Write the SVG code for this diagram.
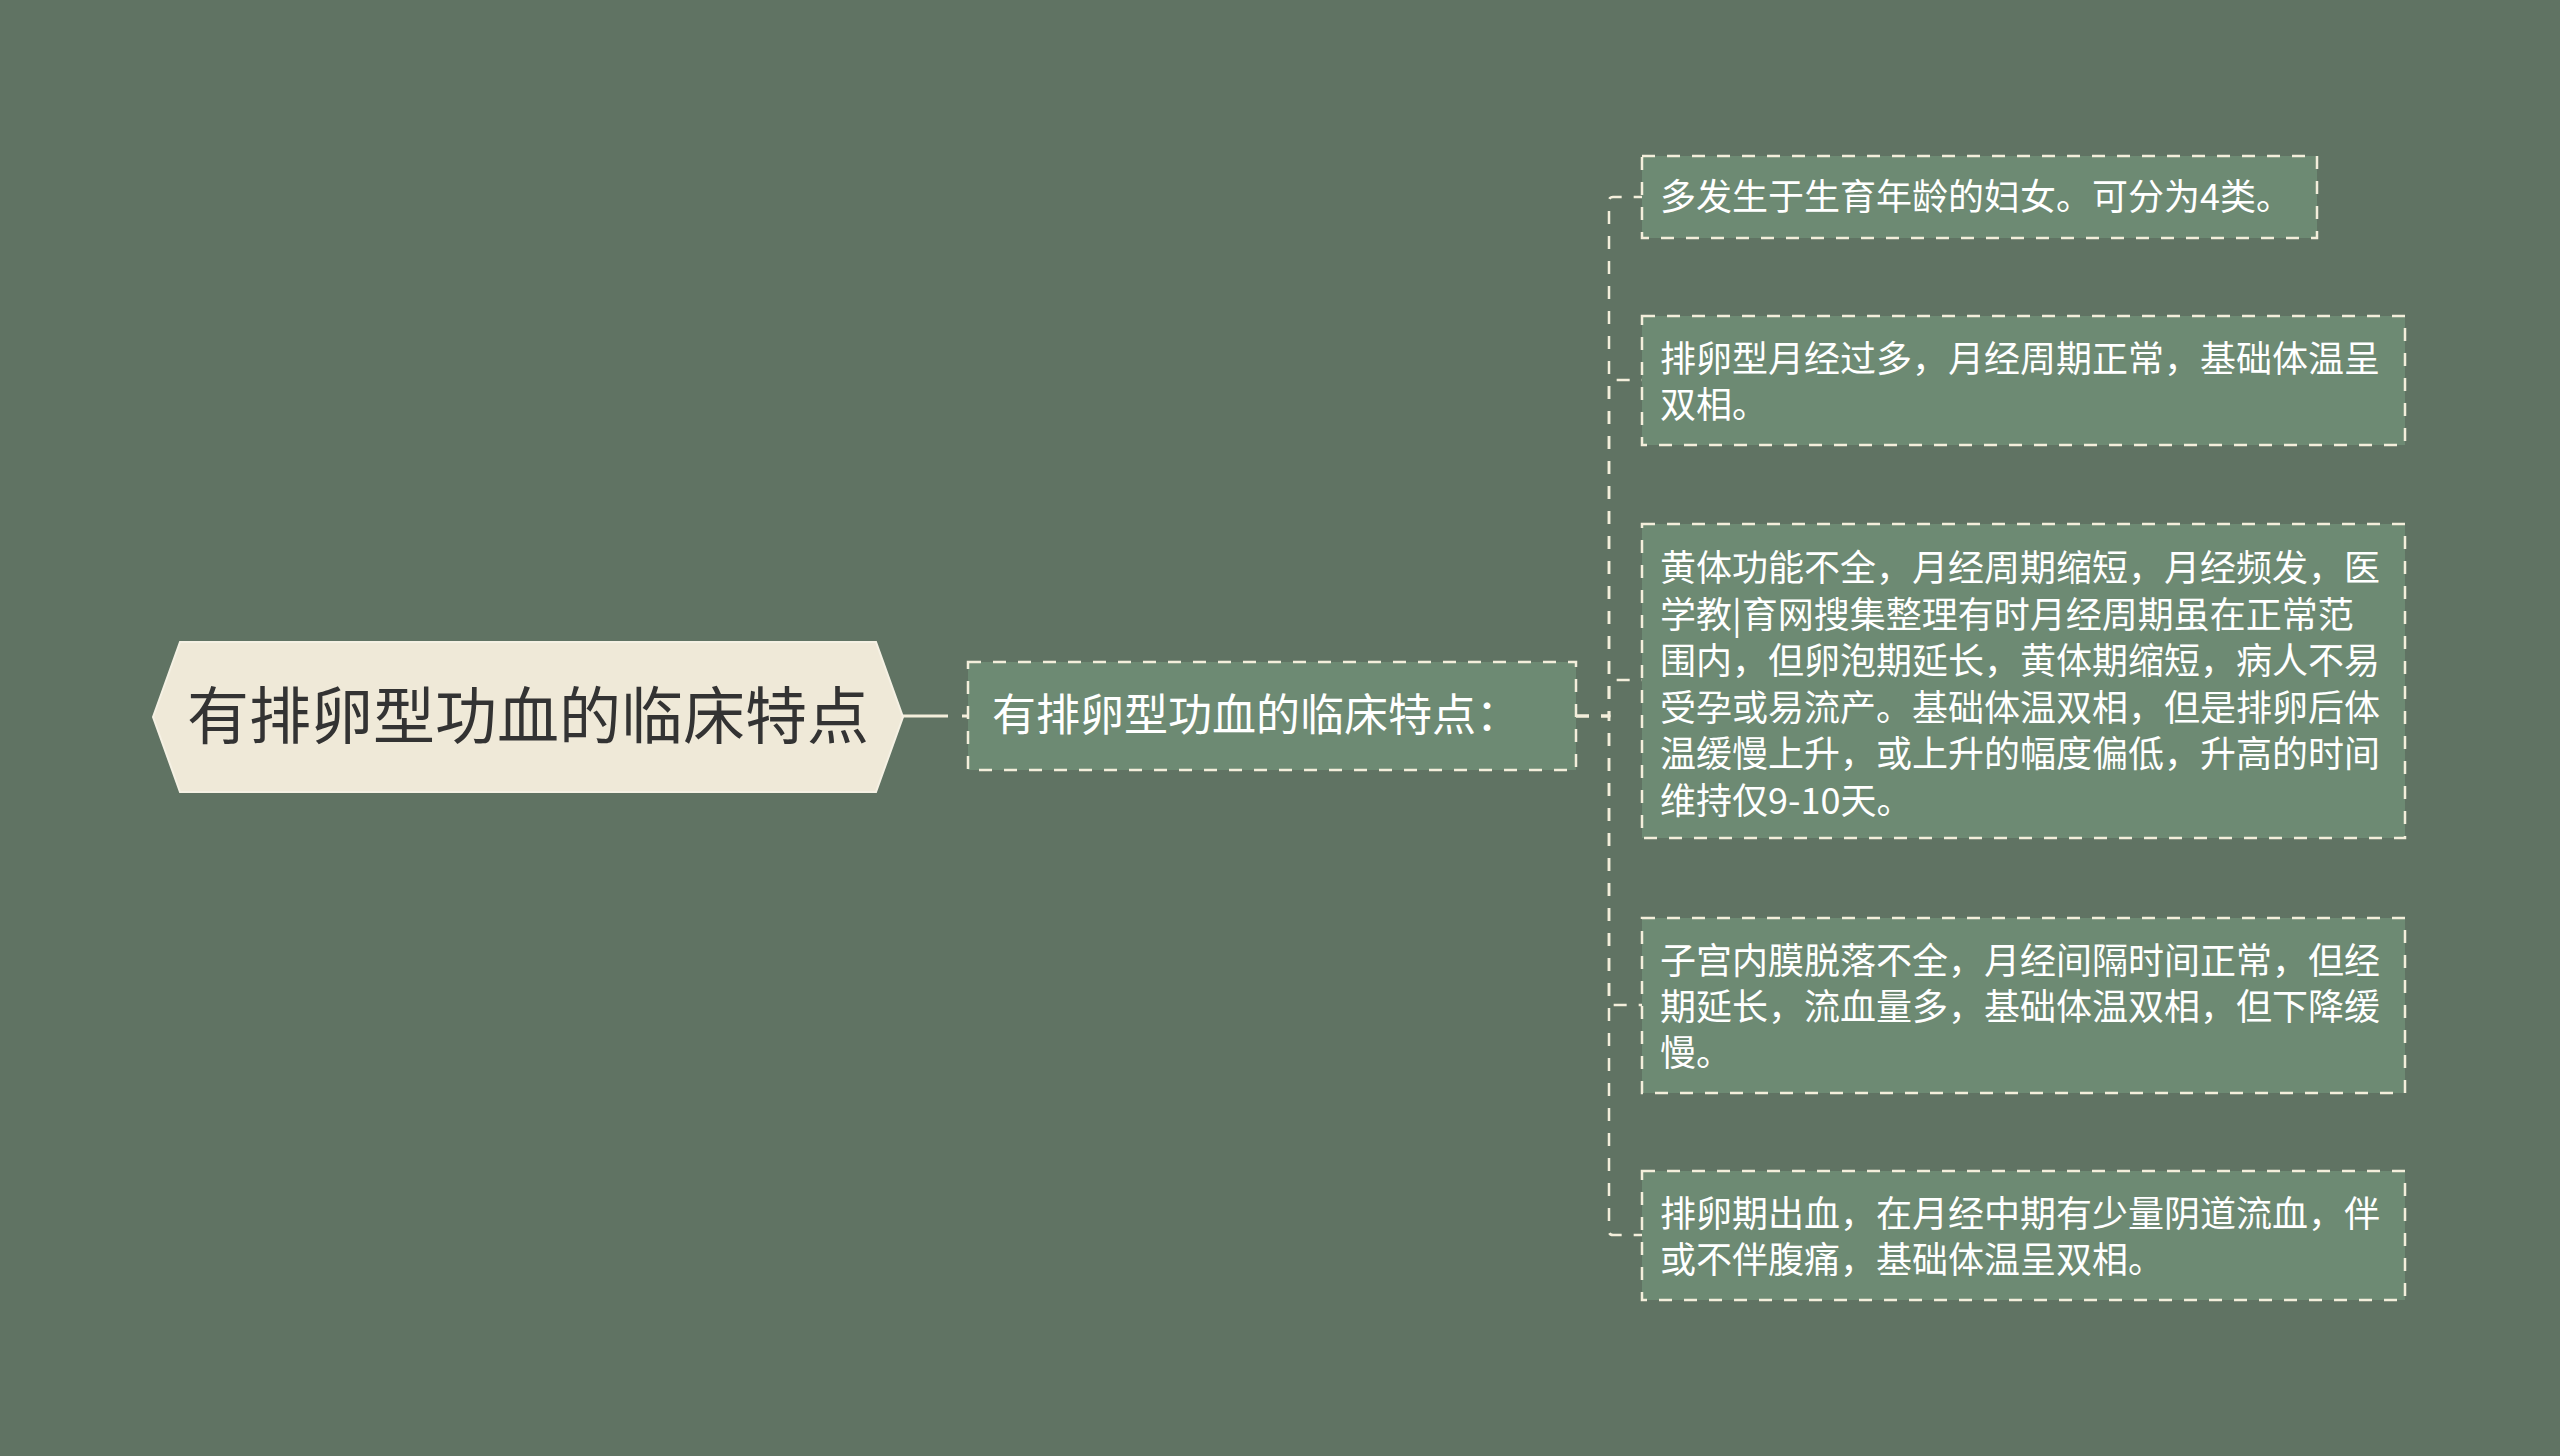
<svg xmlns="http://www.w3.org/2000/svg" width="2560" height="1456" viewBox="0 0 2560 1456">
<style>
.bg{fill:#607363}
.root{fill:#efe9d8;stroke:#f5f1e4;stroke-width:2}
.rtext{font-family:"Noto Sans CJK SC","Noto Sans",sans-serif;font-size:62px;fill:#333333}
.box{fill:#6d8a73;stroke:#f3eedb;stroke-width:2.5;stroke-dasharray:13 12}
.ctext{font-family:"Noto Sans CJK SC","Noto Sans",sans-serif;font-size:44px;fill:#ffffff}
.ltext{font-family:"Noto Sans CJK SC","Noto Sans",sans-serif;font-size:36px;fill:#ffffff}
.edge{fill:none;stroke:#f3eedb;stroke-width:2.5;stroke-dasharray:13 12}
.edge0{fill:none;stroke:#f3eedb;stroke-width:3;stroke-dasharray:45 14}
</style>
<rect class="bg" x="0" y="0" width="2560" height="1456"/>
<g id="connectors">
<path class="edge0" d="M903,716 L968,716"/>
<path class="edge" d="M1576,716 L1609,716 L1609,201 Q1609,197 1613,197 L1642,197"/>
<path class="edge" d="M1576,716 L1609,716 L1609,384 Q1609,380 1613,380 L1642,380"/>
<path class="edge" d="M1576,716 L1609,716 L1609,684 Q1609,680 1613,680 L1642,680"/>
<path class="edge" d="M1576,716 L1609,716 L1609,1001 Q1609,1005 1613,1005 L1642,1005"/>
<path class="edge" d="M1576,716 L1609,716 L1609,1231 Q1609,1235 1613,1235 L1642,1235"/>
</g>
<g id="root">
<polygon class="root" points="153,717 180,642 876,642 903,717 876,792 180,792"/>
<text class="rtext" x="528" y="739" text-anchor="middle">有排卵型功血的临床特点</text>
</g>
<g id="child">
<rect class="box" x="968" y="662" width="608" height="108"/>
<text class="ctext" x="992" y="731">有排卵型功血的临床特点：</text>
</g>
<g id="leaf1">
<rect class="box" x="1642" y="156" width="675" height="82"/>
<text class="ltext" x="1660" y="210">多发生于生育年龄的妇女。可分为4类。</text>
</g>
<g id="leaf2">
<rect class="box" x="1642" y="316" width="763" height="129"/>
<text class="ltext" x="1660" y="372">排卵型月经过多，月经周期正常，基础体温呈<tspan x="1660" dy="46">双相。</tspan></text>
</g>
<g id="leaf3">
<rect class="box" x="1642" y="524" width="763" height="314"/>
<text class="ltext" x="1660" y="581">黄体功能不全，月经周期缩短，月经频发，医<tspan x="1660" dy="46.6">学教|育网搜集整理有时月经周期虽在正常范</tspan><tspan x="1660" dy="46.6">围内，但卵泡期延长，黄体期缩短，病人不易</tspan><tspan x="1660" dy="46.6">受孕或易流产。基础体温双相，但是排卵后体</tspan><tspan x="1660" dy="46.6">温缓慢上升，或上升的幅度偏低，升高的时间</tspan><tspan x="1660" dy="46.6">维持仅9-10天。</tspan></text>
</g>
<g id="leaf4">
<rect class="box" x="1642" y="918" width="763" height="175"/>
<text class="ltext" x="1660" y="974">子宫内膜脱落不全，月经间隔时间正常，但经<tspan x="1660" dy="46">期延长，流血量多，基础体温双相，但下降缓</tspan><tspan x="1660" dy="46">慢。</tspan></text>
</g>
<g id="leaf5">
<rect class="box" x="1642" y="1171" width="763" height="129"/>
<text class="ltext" x="1660" y="1227">排卵期出血，在月经中期有少量阴道流血，伴<tspan x="1660" dy="46">或不伴腹痛，基础体温呈双相。</tspan></text>
</g>
</svg>
